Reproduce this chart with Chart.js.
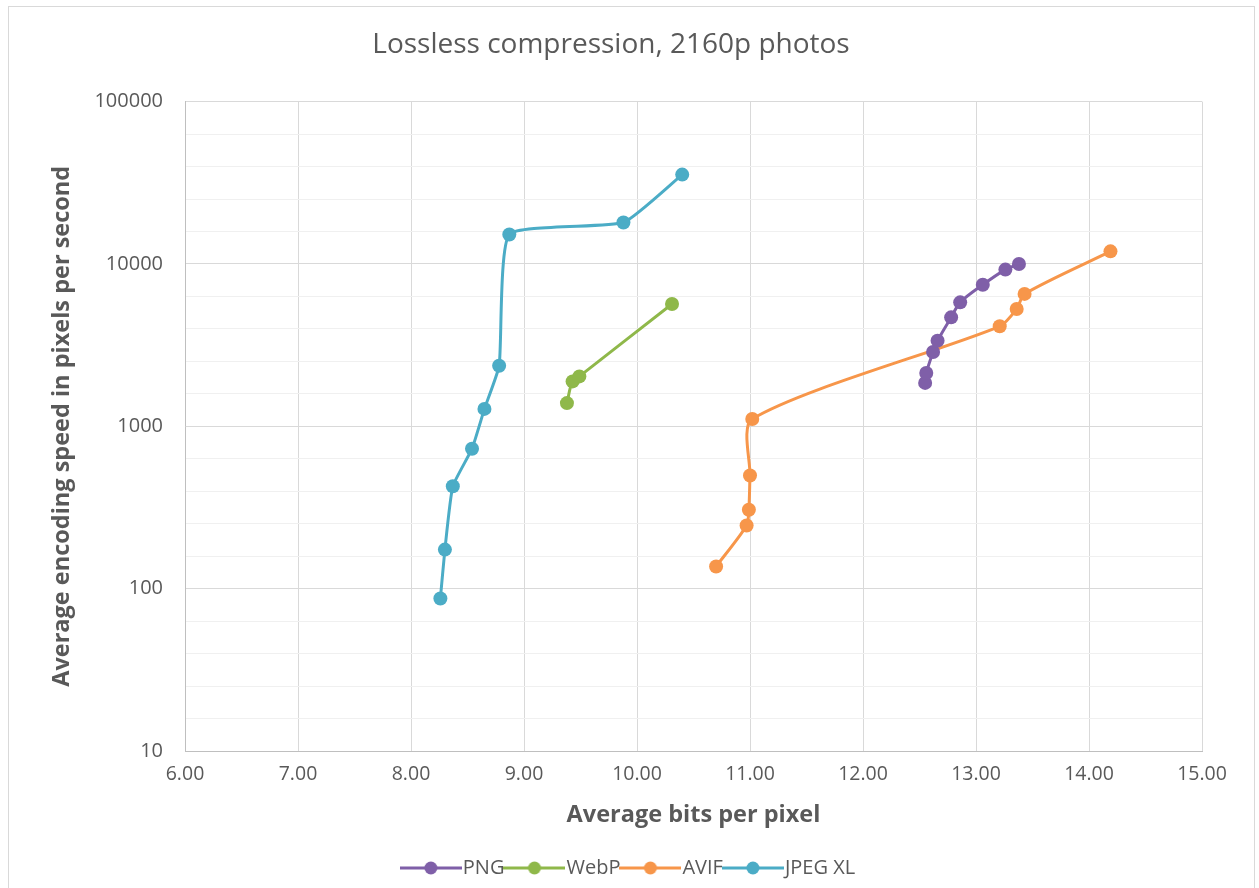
<!DOCTYPE html>
<html>
<head>
<meta charset="utf-8">
<script src="https://cdn.jsdelivr.net/npm/chart.js@4"></script>
<style>
  html, body { margin: 0; padding: 0; background: #fff; overflow: hidden; }
  #wrap { position: relative; width: 1259px; height: 888px; }
  #frame { position: absolute; left: 8px; top: 6px; width: 1247px; height: 900px; border: 1px solid #d9d9d9; box-sizing: border-box; }
  canvas { position: absolute; left: 0; top: 0; }
</style>
</head>
<body>
<div id="wrap">
  <div id="frame"></div>
  <canvas id="chart" width="1259" height="888"></canvas>
</div>
<script>
// ====== DATA ======
const seriesNames = ['PNG', 'WebP', 'AVIF', 'JPEG XL'];
const seriesColors = ['#7f5fa8', '#8fb84a', '#f7964a', '#4bacc6'];
const seriesTension = [0.3, 0.4, 0.25, 0.15];

const pngBpp   = [12.55, 12.56, 12.62, 12.66, 12.78, 12.86, 13.06, 13.26, 13.38];
const pngSpeed = [1850, 2130, 2870, 3370, 4690, 5800, 7450, 9230, 10000];

const webpBpp   = [9.38, 9.43, 9.49, 10.31];
const webpSpeed = [1390, 1890, 2030, 5670];

const avifBpp   = [10.70, 10.97, 10.99, 11.00, 11.02, 13.21, 13.36, 13.43, 14.19];
const avifSpeed = [137, 245, 306, 498, 1110, 4130, 5280, 6540, 11960];

const jxlBpp   = [8.26, 8.30, 8.37, 8.54, 8.65, 8.78, 8.87, 9.88, 10.40];
const jxlSpeed = [87, 174, 427, 728, 1280, 2360, 15200, 18000, 35500];

const xTicks = [6, 7, 8, 9, 10, 11, 12, 13, 14, 15];
const yTickLabels = [10, 100, 1000, 10000, 100000];

// ====== HELPERS ======
const textColor = '#595959';
const fontFamily = '"Open Sans", sans-serif';
const markerBox = 44;

function toPoints(xs, ys) {
  return xs.map((x, i) => ({ x: x, y: ys[i] }));
}

// line + dot legend symbol, a bit wider than the box so it meets the text
function makeMarker(color) {
  const c = document.createElement('canvas');
  c.width = markerBox + 18;
  c.height = 16;
  const g = c.getContext('2d');
  g.strokeStyle = color;
  g.lineWidth = 3;
  g.beginPath();
  g.moveTo(0, 8);
  g.lineTo(c.width, 8);
  g.stroke();
  g.fillStyle = color;
  g.beginPath();
  g.arc(c.width / 2, 8, 6.5, 0, Math.PI * 2);
  g.fill();
  return c;
}

const allSeries = [
  toPoints(pngBpp, pngSpeed),
  toPoints(webpBpp, webpSpeed),
  toPoints(avifBpp, avifSpeed),
  toPoints(jxlBpp, jxlSpeed)
];

const datasets = seriesNames.map((name, i) => ({
  label: name,
  data: allSeries[i],
  showLine: true,
  borderColor: seriesColors[i],
  backgroundColor: seriesColors[i],
  borderWidth: 3,
  pointRadius: 7,
  pointHoverRadius: 7,
  pointBorderWidth: 0,
  pointBackgroundColor: seriesColors[i],
  tension: seriesTension[i],
  fill: false
}));

// shift the legend so it is centred on the whole frame, not just the padded box
const legendShift = {
  id: 'legendShift',
  afterLayout(chart) {
    if (chart.legend) {
      chart.legend.left += 42;
    }
  }
};

// ====== CHART ======
new Chart(document.getElementById('chart').getContext('2d'), {
  type: 'scatter',
  data: { datasets: datasets },
  plugins: [legendShift],
  options: {
    responsive: false,
    animation: false,
    layout: { padding: { left: 20, right: 57, top: 0, bottom: 0 } },
    plugins: {
      title: {
        display: true,
        text: 'Lossless compression, 2160p photos',
        color: textColor,
        font: { family: fontFamily, size: 28, weight: 'normal' },
        padding: { top: 28, bottom: 40 }
      },
      legend: {
        position: 'bottom',
        labels: {
          color: textColor,
          font: { family: fontFamily, size: 20 },
          usePointStyle: true,
          pointStyleWidth: markerBox,
          padding: 8,
          generateLabels(chart) {
            const items = Chart.defaults.plugins.legend.labels.generateLabels(chart);
            items.forEach((it, i) => { it.pointStyle = makeMarker(seriesColors[i]); });
            return items;
          }
        }
      },
      tooltip: { enabled: false }
    },
    scales: {
      x: {
        type: 'linear',
        min: 6,
        max: 15,
        afterBuildTicks(scale) {
          scale.ticks = xTicks.map(v => ({ value: v }));
        },
        afterFit(scale) { scale.height = 99; },
        ticks: {
          color: textColor,
          font: { family: fontFamily, size: 19.5 },
          padding: 12,
          callback: v => Number(v).toFixed(2)
        },
        grid: { color: '#d9d9d9', drawTicks: false, lineWidth: 1 },
        border: { color: '#bfbfbf', width: 1 },
        title: {
          display: true,
          text: 'Average bits per pixel',
          color: textColor,
          font: { family: fontFamily, size: 23.5, weight: 'bold' },
          padding: { top: 0, bottom: 21 }
        }
      },
      y: {
        type: 'logarithmic',
        min: 10,
        max: 100000,
        afterBuildTicks(scale) {
          const ticks = [];
          yTickLabels.forEach((v, i) => {
            ticks.push({ value: v, major: true });
            if (i < yTickLabels.length - 1) {
              for (let k = 1; k < 5; k++) {
                ticks.push({ value: v * Math.pow(10, k / 5), major: false });
              }
            }
          });
          scale.ticks = ticks;
        },
        afterFit(scale) { scale.width = 165; },
        ticks: {
          autoSkip: false,
          color: textColor,
          font: { family: fontFamily, size: 20 },
          padding: 22,
          callback: v => (yTickLabels.includes(v) ? String(v) : '')
        },
        grid: {
          drawTicks: false,
          color: ctx => (ctx.tick && yTickLabels.includes(ctx.tick.value) ? '#d9d9d9' : '#f0f0f0')
        },
        border: { color: '#bfbfbf', width: 1 },
        title: {
          display: true,
          text: 'Average encoding speed in pixels per second',
          color: textColor,
          font: { family: fontFamily, size: 23.5, weight: 'bold' },
          padding: { top: 28, bottom: 0 }
        }
      }
    }
  }
});
</script>
</body>
</html>
